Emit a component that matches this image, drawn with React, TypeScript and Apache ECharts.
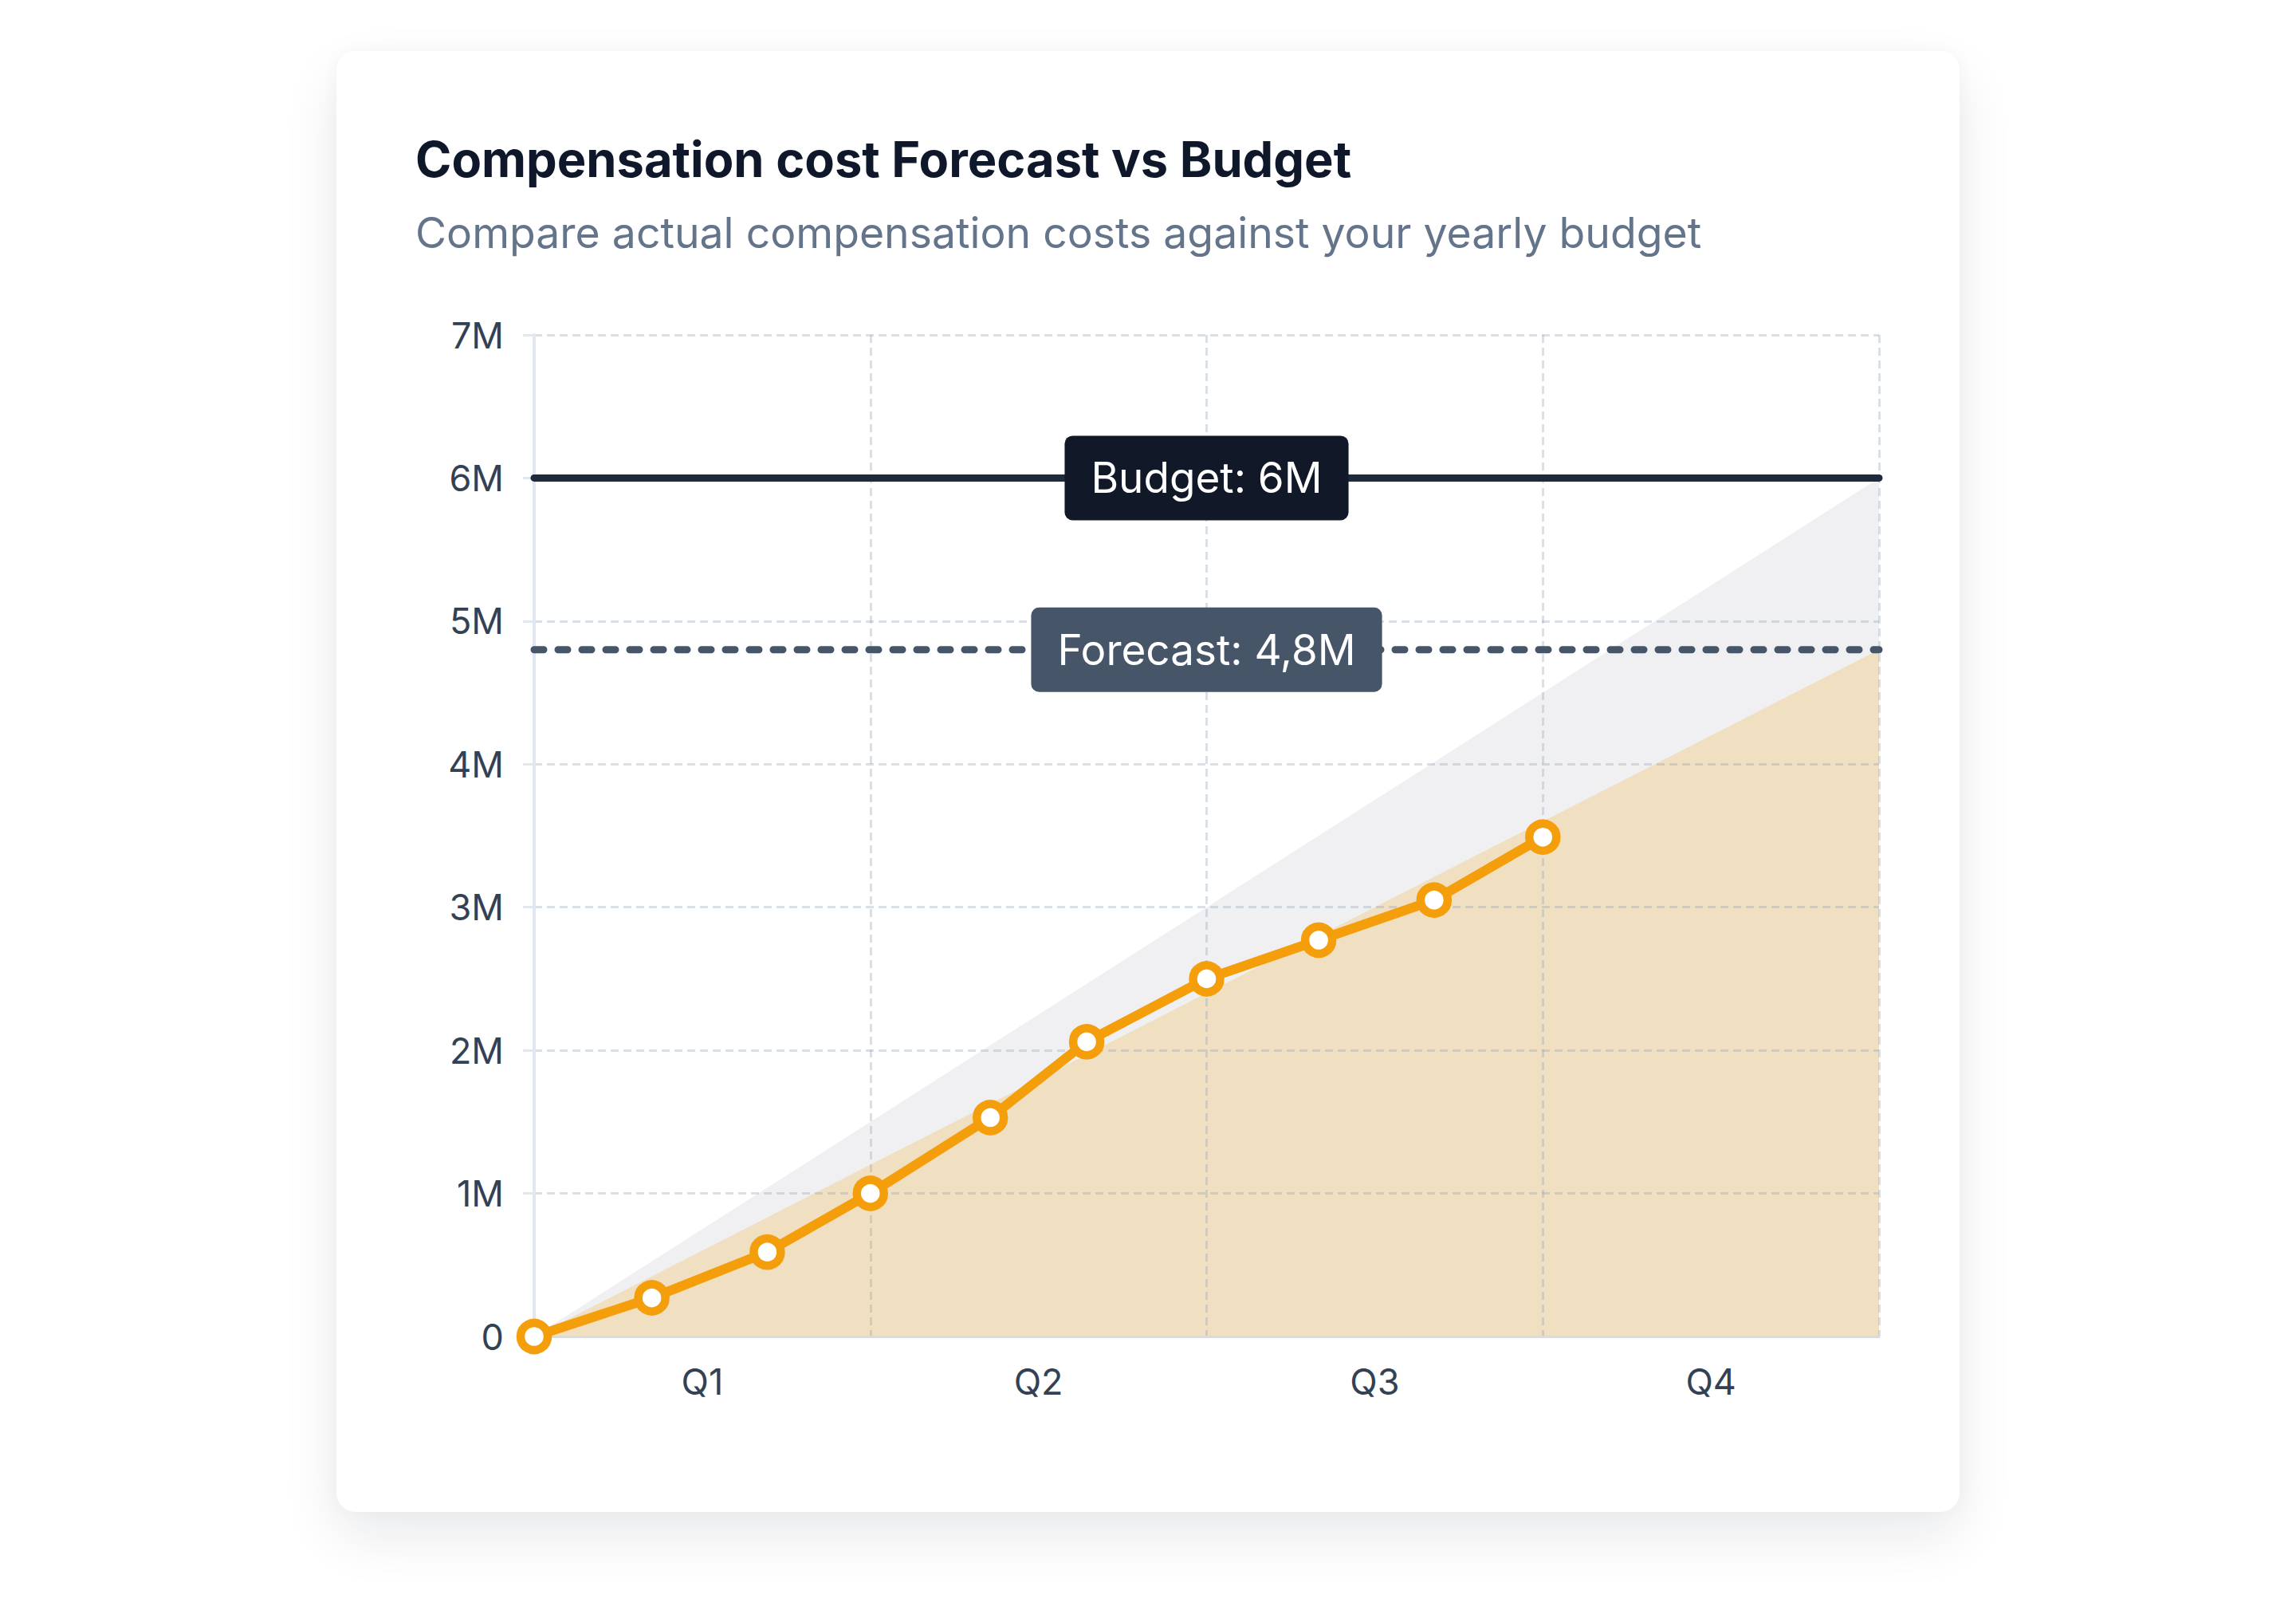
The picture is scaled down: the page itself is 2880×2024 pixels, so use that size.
import React, { useEffect, useRef } from "react";
import * as echarts from "echarts";

// ---- data ----
const quarters = ["Q1", "Q2", "Q3", "Q4"];
const actualMonths = [0, 1.05, 2.08, 3, 4.07, 4.93, 6, 7, 8.03, 9];
const actualValues = [0, 0.27, 0.59, 1.0, 1.53, 2.06, 2.5, 2.77, 3.05, 3.49]; // millions
const budgetValue = 6;
const forecastValue = 4.8;
const yearStart = 0;
const yearEnd = 12;
const yMin = 0;
const yMax = 7;
const yStep = 1;
const labelMonth = 6;
const budgetLabel = "Budget: 6M";
const forecastLabel = "Forecast: 4,8M";
const titleText = "Compensation cost Forecast vs Budget";
const subtitleText = "Compare actual compensation costs against your yearly budget";

const FONT = "Inter";

export default function App() {
  const ref = useRef<HTMLDivElement>(null);

  useEffect(() => {
    if (!ref.current) return;
    const chart = echarts.init(ref.current, undefined, { renderer: "svg" });

    const actualData = actualMonths.map((m, i) => [m, actualValues[i]]);
    const budgetPace = [
      [yearStart, 0],
      [yearEnd, budgetValue],
    ];
    const forecastPace = [
      [yearStart, 0],
      [yearEnd, forecastValue],
    ];

    const gridLine = {
      show: true,
      lineStyle: { color: "rgba(148,163,184,0.34)", width: 3, type: [10, 6] as any },
    };

    const boxLabel = (text: string, bg: string) => ({
      show: true,
      position: "inside",
      formatter: text,
      fontFamily: FONT,
      fontSize: 53,
      lineHeight: 52,
      color: "#ffffff",
      backgroundColor: bg,
      borderRadius: 10,
      padding: [27, 33],
      opacity: 1,
    });

    chart.setOption({
      animation: false,
      backgroundColor: "transparent",
      textStyle: { fontFamily: FONT },
      title: [
        {
          text: titleText,
          left: 516,
          top: 160,
          textStyle: {
            fontFamily: FONT,
            fontSize: 61.4,
            fontWeight: 700,
            color: "#0f172a",
            lineHeight: 70,
          },
        },
        {
          text: subtitleText,
          left: 516,
          top: 256,
          textStyle: {
            fontFamily: FONT,
            fontSize: 53.5,
            fontWeight: 400,
            color: "#64748b",
            lineHeight: 60,
          },
        },
      ],
      grid: { left: 670, right: 523, top: 420, bottom: 348, containLabel: false },
      xAxis: [
        {
          type: "category",
          data: quarters,
          boundaryGap: true,
          z: 3,
          axisLine: { show: true, lineStyle: { color: "#d7dce3", width: 3 } },
          axisTick: { show: false },
          axisLabel: {
            fontFamily: FONT,
            fontSize: 45,
            color: "#334155",
            margin: 34,
            lineHeight: 45,
          },
          splitLine: gridLine,
        },
        {
          type: "value",
          min: yearStart,
          max: yearEnd,
          show: false,
        },
      ],
      yAxis: {
        type: "value",
        min: yMin,
        max: yMax,
        interval: yStep,
        z: 3,
        axisLine: { show: true, lineStyle: { color: "#e2e6ee", width: 4 } },
        axisTick: { show: true, length: 14, lineStyle: { color: "#e2e8f0", width: 3 } },
        axisLabel: {
          fontFamily: FONT,
          fontSize: 45,
          color: "#334155",
          margin: 38,
          formatter: (v: number) => (v === 0 ? "0" : `${v}M`),
        },
        splitLine: gridLine,
      },
      series: [
        {
          name: "Budget pace",
          type: "line",
          xAxisIndex: 1,
          data: budgetPace,
          symbol: "none",
          silent: true,
          z: 1,
          lineStyle: { width: 0, opacity: 0 },
          areaStyle: { color: "#f0f0f2", opacity: 1 },
        },
        {
          name: "Forecast pace",
          type: "line",
          xAxisIndex: 1,
          data: forecastPace,
          symbol: "none",
          silent: true,
          z: 2,
          lineStyle: { width: 0, opacity: 0 },
          areaStyle: { color: "#f0dfc0", opacity: 1 },
        },
        {
          name: "Budget",
          type: "line",
          xAxisIndex: 1,
          data: [
            [yearStart, budgetValue],
            [yearEnd, budgetValue],
          ],
          symbol: "none",
          silent: true,
          z: 6,
          lineStyle: { color: "#1e293b", width: 9, cap: "round" },
        },
        {
          name: "Forecast",
          type: "line",
          xAxisIndex: 1,
          data: [
            [yearStart, forecastValue],
            [yearEnd, forecastValue],
          ],
          symbol: "none",
          silent: true,
          z: 6,
          lineStyle: { color: "#475569", width: 9, type: [12, 18], cap: "round" },
        },
        {
          name: "Actual",
          type: "line",
          xAxisIndex: 1,
          data: actualData,
          z: 8,
          symbol: "circle",
          symbolSize: 34,
          showAllSymbol: true,
          lineStyle: { color: "#f59e0b", width: 12, join: "round" },
          itemStyle: { color: "#ffffff", borderColor: "#f59e0b", borderWidth: 10.5 },
        },
        {
          name: "Labels",
          type: "scatter",
          xAxisIndex: 1,
          z: 20,
          zlevel: 1,
          symbol: "circle",
          symbolSize: 1,
          silent: true,
          itemStyle: { color: "rgba(0,0,0,0)", opacity: 1 },
          data: [
            { value: [labelMonth, budgetValue], label: boxLabel(budgetLabel, "#111827") },
            { value: [labelMonth, forecastValue], label: boxLabel(forecastLabel, "#475569") },
          ],
        },
      ],
    });

    return () => chart.dispose();
  }, []);

  return (
    <div style={{ position: "absolute", left: 0, top: 0, width: 2880, height: 2024, background: "#ffffff", overflow: "hidden" }}>
      <div
        style={{
          position: "absolute",
          left: 422,
          top: 64,
          width: 2036,
          height: 1832,
          borderRadius: 24,
          background: "#ffffff",
          boxShadow: "0 30px 70px rgba(15,23,42,0.09), 0 0 24px rgba(15,23,42,0.03)",
        }}
      />
      <div ref={ref} style={{ position: "absolute", left: 0, top: 0, width: 2880, height: 2024 }} />
    </div>
  );
}
